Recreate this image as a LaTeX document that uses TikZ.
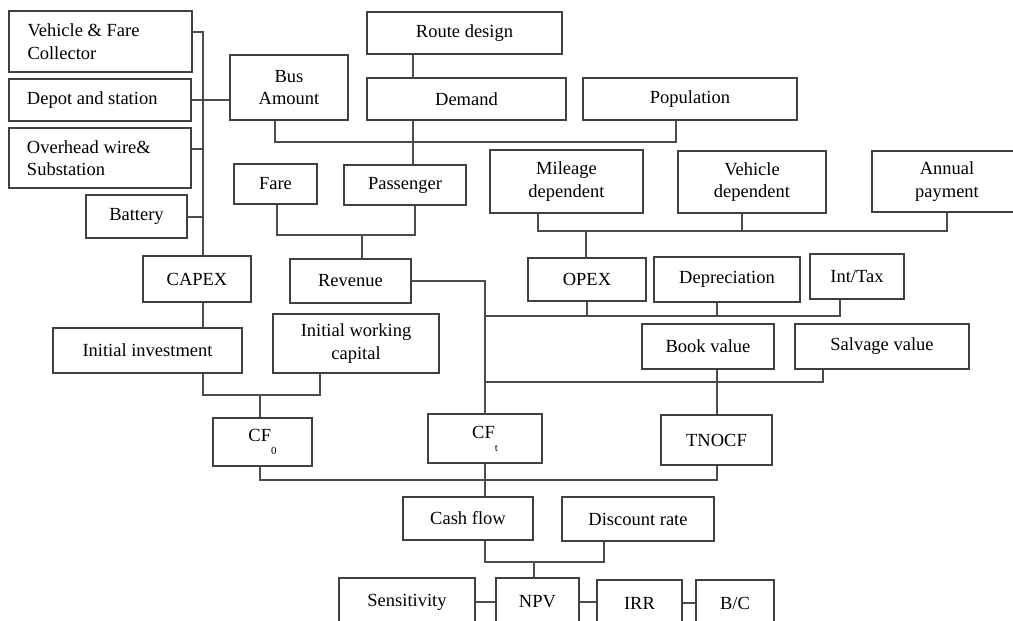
\documentclass[tikz,border=0pt]{standalone}
\usepackage{fontspec}
\setmainfont{Liberation Serif}
\tikzset{flowbox/.style={rectangle, draw=black!75, line width=1.1pt, inner sep=0pt, align=center, font=\fontsize{18.5}{22.5}\selectfont}}
\tikzset{leftbox/.style={flowbox, align=flush left, text width=146pt}}
\tikzset{link/.style={draw=black!70, line width=1.1pt}}
\newcommand{\lowsub}[1]{\raisebox{-13pt}{\fontsize{11}{11}\selectfont #1}}

\begin{document}
\begin{tikzpicture}[x=1pt, y=-1pt]

\clip (0,0) rectangle (1013,621);

  % nodes

  \node [leftbox, minimum width=183pt, minimum height=61pt] (vfc) at (100.5, 41.5) {Vehicle \& Fare\\Collector};
  \node [leftbox, minimum width=182pt, minimum height=42pt] (depot) at (100, 100) {Depot and station};
  \node [leftbox, minimum width=182pt, minimum height=60pt] (ohw) at (100, 158) {Overhead wire\&\\Substation};
  \node [flowbox, minimum width=101pt, minimum height=43pt] (battery) at (136.5, 216.5) {Battery};
  \node [flowbox, minimum width=118pt, minimum height=65pt] (busamt) at (289, 87.5) {Bus\\Amount};
  \node [flowbox, minimum width=195pt, minimum height=42pt] (route) at (464.5, 33) {Route design};
  \node [flowbox, minimum width=199pt, minimum height=42pt] (demand) at (466.5, 99) {Demand};
  \node [flowbox, minimum width=214pt, minimum height=42pt] (popul) at (690, 99) {Population};
  \node [flowbox, minimum width=83pt, minimum height=40pt] (fare) at (275.5, 184) {Fare};
  \node [flowbox, minimum width=122pt, minimum height=40pt] (passenger) at (405, 185) {Passenger};
  \node [flowbox, minimum width=153pt, minimum height=63pt] (mileage) at (566.5, 181.5) {Mileage\\dependent};
  \node [flowbox, minimum width=148pt, minimum height=62pt] (vehdep) at (752, 182) {Vehicle\\dependent};
  \node [flowbox, minimum width=150pt, minimum height=61pt] (annual) at (947, 181.5) {Annual\\payment};

  \node [flowbox, minimum width=108pt, minimum height=46pt] (capex) at (197, 279) {CAPEX};
  \node [flowbox, minimum width=121pt, minimum height=44pt] (revenue) at (350.5, 281) {Revenue};
  \node [flowbox, minimum width=118pt, minimum height=43pt] (opex) at (587, 279.5) {OPEX};
  \node [flowbox, minimum width=146pt, minimum height=45pt] (deprec) at (727, 279.5) {Depreciation};
  \node [flowbox, minimum width=94pt, minimum height=45pt] (inttax) at (857, 276.5) {Int/Tax};
  \node [flowbox, minimum width=189pt, minimum height=45pt] (initinv) at (147.5, 350.5) {Initial investment};
  \node [flowbox, minimum width=166pt, minimum height=59pt] (iwc) at (356, 343.5) {Initial working\\capital};
  \node [flowbox, minimum width=132pt, minimum height=45pt] (book) at (708, 346.5) {Book value};
  \node [flowbox, minimum width=174pt, minimum height=45pt] (salvage) at (882, 346.5) {Salvage value};

  \node [flowbox, minimum width=99pt, minimum height=48pt] (cf0) at (262.5, 442) {CF\lowsub{0}};
  \node [flowbox, minimum width=114pt, minimum height=49pt] (cft) at (485, 438.5) {CF\lowsub{t}};
  \node [flowbox, minimum width=111pt, minimum height=50pt] (tnocf) at (716.5, 440) {TNOCF};
  \node [flowbox, minimum width=130pt, minimum height=43pt] (cashflow) at (468, 518.5) {Cash flow};
  \node [flowbox, minimum width=152pt, minimum height=44pt] (discount) at (638, 519) {Discount rate};
  \node [flowbox, minimum width=136pt, minimum height=48pt] (sensit) at (407, 602) {Sensitivity};
  \node [flowbox, minimum width=83pt, minimum height=48pt] (npv) at (537.5, 602) {NPV};
  \node [flowbox, minimum width=85pt, minimum height=46pt] (irr) at (639.5, 603) {IRR};
  \node [flowbox, minimum width=78pt, minimum height=46pt] (bc) at (735, 603) {B/C};

  % junctions

  \coordinate (b1) at (203, 32);
  \coordinate (b3) at (203, 149);
  \coordinate (b4) at (203, 217);
  \coordinate (dm) at (413, 142);
  \coordinate (p1) at (275, 142);
  \coordinate (p2) at (676, 142);
  \coordinate (f1) at (277, 235);
  \coordinate (f2) at (415, 235);
  \coordinate (f3) at (362, 235);
  \coordinate (m1) at (538, 231);
  \coordinate (m2) at (742, 231);
  \coordinate (m3) at (947, 231);
  \coordinate (m4) at (586, 231);
  \coordinate (o1) at (840, 316);
  \coordinate (o2) at (717, 316);
  \coordinate (s1) at (823, 382);
  \coordinate (i1) at (203, 395);
  \coordinate (i2) at (320, 395);
  \coordinate (i3) at (260, 395);
  \coordinate (c1) at (260, 480);
  \coordinate (c2) at (717, 480);
  \coordinate (d1) at (485, 562);
  \coordinate (d2) at (604, 562);
  \coordinate (d3) at (534, 562);

  %  edges
  \draw [link] (vfc.east |- b1) -- (b1) -- (b1 |- capex.north);
  \draw [link] (depot.east) -- (depot.east -| busamt.west);
  \draw [link] (ohw.east |- b3) -- (b3);
  \draw [link] (battery.east |- b4) -- (b4);

  \draw [link] (route.south -| dm) -- (demand.north -| dm);
  \draw [link] (demand.south -| dm) -- (passenger.north -| dm);
  \draw [link] (busamt.south -| p1) -- (p1) -- (p2) -- (popul.south -| p2);

  \draw [link] (fare.south -| f1) -- (f1) -- (f2) -- (passenger.south -| f2);
  \draw [link] (f3) -- (revenue.north -| f3);

  \draw [link] (mileage.south -| m1) -- (m1) -- (m3) -- (annual.south -| m3);
  \draw [link] (vehdep.south -| m2) -- (m2);
  \draw [link] (m4) -- (opex.north -| m4);

  \draw [link] (capex.south -| b1) -- (initinv.north -| b1);
  \draw [link] (revenue.east) -- (revenue.east -| cft.north) -- (cft.north);
  \draw [link] (cft.north |- o1) -- (o1) -- (inttax.south -| o1);
  \draw [link] (opex.south) -- (opex.south |- o1);
  \draw [link] (deprec.south -| o2) -- (o2);

  \draw [link] (book.south -| o2) -- (tnocf.north -| o2);
  \draw [link] (salvage.south -| s1) -- (s1) -- (cft.north |- s1);

  \draw [link] (initinv.south -| i1) -- (i1) -- (i2) -- (iwc.south -| i2);
  \draw [link] (i3) -- (cf0.north -| i3);

  \draw [link] (cf0.south -| c1) -- (c1) -- (c2) -- (tnocf.south -| c2);
  \draw [link] (cft.south) -- (cashflow.north -| cft.south);

  \draw [link] (cashflow.south -| d1) -- (d1) -- (d2) -- (discount.south -| d2);
  \draw [link] (d3) -- (npv.north -| d3);

  \draw [link] (sensit.east) -- (npv.west);
  \draw [link] (npv.east) -- (npv.east -| irr.west);
  \draw [link] (irr.east) -- (bc.west);

\end{tikzpicture}
\end{document}
